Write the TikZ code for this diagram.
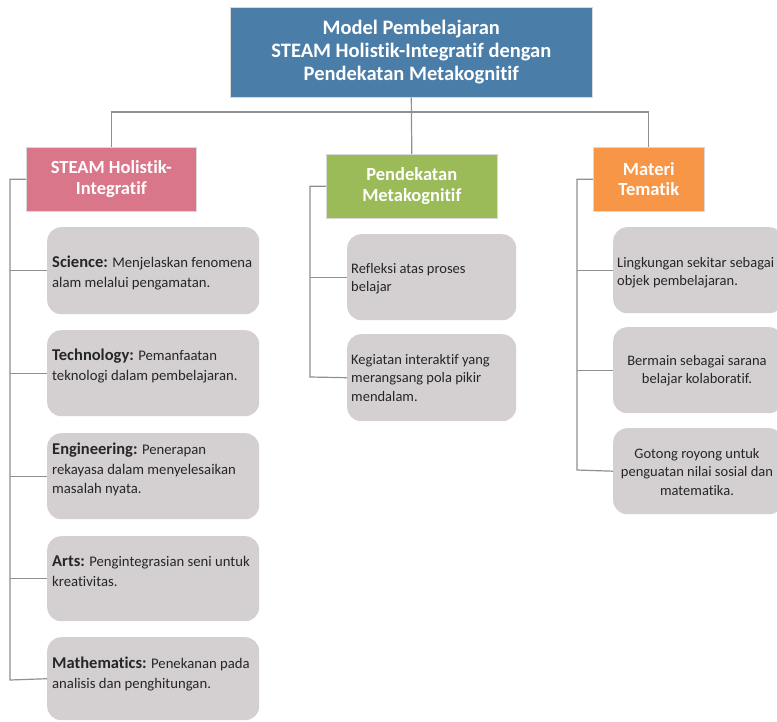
\documentclass[tikz,border=0pt]{standalone}
\usepackage{fontspec}
\setmainfont{Carlito}[Ligatures={NoCommon,NoRequired,NoContextual}]
\definecolor{topblue}{HTML}{4A7DA8}
\definecolor{pinkh}{HTML}{D9768A}
\definecolor{greenh}{HTML}{9BBB59}
\definecolor{orangeh}{HTML}{F79646}
\definecolor{boxgray}{HTML}{D4D0D1}
\definecolor{linegray}{HTML}{909090}
\definecolor{txt}{HTML}{262626}
\newcommand{\itemlab}{\fontsize{16.5}{19.5}\selectfont\bfseries}
\begin{document}
\begin{tikzpicture}[x=1pt,y=-1pt,
  head/.style={draw=white!85!black,line width=0.6pt,anchor=north west,text=white,align=center,inner sep=0pt},
  item/.style={fill=boxgray,draw=none,rounded corners=14pt,anchor=north west,inner sep=0pt},
  body/.style={text=txt,inner sep=0pt,anchor=north west,align=left,font=\fontsize{14.7}{19.5}\selectfont},
  bodyc/.style={text=txt,inner sep=0pt,anchor=north,align=center,font=\fontsize{14.5}{18.5}\selectfont},
  conn/.style={draw=linegray,line width=1.2pt}]
\clip (0,0) rectangle (777,721);
\fill[white] (0,0) rectangle (777,721);
% header boxes
\node[head,fill=topblue,minimum width=362pt,minimum height=90pt,font=\fontsize{20.5}{23}\selectfont\bfseries] (top) at (230,7) {Model Pembelajaran\\STEAM Holistik-Integratif dengan\\Pendekatan Metakognitif};
\node[head,fill=pinkh,minimum width=170pt,minimum height=64pt,font=\fontsize{18.5}{20.5}\selectfont\bfseries,yshift=-1.5pt] (steam) at (26,145.5) {STEAM Holistik-\\Integratif};
\node[head,fill=greenh,minimum width=171pt,minimum height=64pt,font=\fontsize{18.5}{21}\selectfont\bfseries] (meta) at (326,154) {Pendekatan\\Metakognitif};
\node[head,fill=orangeh,minimum width=111pt,minimum height=64pt,font=\fontsize{18.5}{20.5}\selectfont\bfseries] (mat) at (593,147) {Materi\\Tematik};
% left items
\node[item,minimum width=212pt,minimum height=87pt] (sci) at (47,227) {};
\node[item,minimum width=212pt,minimum height=86pt] (tech) at (47,330) {};
\node[item,minimum width=212pt,minimum height=86pt] (eng) at (47,433) {};
\node[item,minimum width=212pt,minimum height=85pt] (arts) at (47,536) {};
\node[item,minimum width=212pt,minimum height=83pt] (math) at (47,637) {};
\node[body] (scit) at (52,256) {{\itemlab Science:} Menjelaskan fenomena\\alam melalui pengamatan.};
\node[body] (techt) at (52,349) {{\itemlab Technology:} Pemanfaatan\\teknologi dalam pembelajaran.};
\node[body] (engt) at (52,443) {{\itemlab Engineering:} Penerapan\\rekayasa dalam menyelesaikan\\masalah nyata.};
\node[body] (artst) at (52,556) {{\itemlab Arts:} Pengintegrasian seni untuk\\kreativitas.};
\node[body] (matht) at (52,657) {{\itemlab Mathematics:} Penekanan pada\\analisis dan penghitungan.};
% middle items
\node[item,minimum width=169pt,minimum height=86pt] (refl) at (347,234) {};
\node[item,minimum width=169pt,minimum height=87pt] (keg) at (347,334) {};
\node[body,font=\fontsize{14.5}{18.5}\selectfont] (reflt) at (351,263) {Refleksi atas proses\\belajar};
\node[body,font=\fontsize{14.5}{18.5}\selectfont] (kegt) at (351,354) {Kegiatan interaktif yang\\merangsang pola pikir\\mendalam.};
% right items
\node[item,minimum width=170pt,minimum height=86pt] (ling) at (613,227) {};
\node[item,minimum width=170pt,minimum height=86pt] (main) at (613,327) {};
\node[item,minimum width=170pt,minimum height=86pt] (goto) at (613,428) {};
\node[body,font=\fontsize{14.5}{18.5}\selectfont] (lingt) at (617,257) {Lingkungan sekitar sebagai\\objek pembelajaran.};
\node[bodyc] (maint) at (697,355) {Bermain sebagai sarana\\belajar kolaboratif.};
\node[bodyc] (gotot) at (697,448) {Gotong royong untuk\\penguatan nilai sosial dan\\matematika.};
% connectors
\coordinate (bus) at (411,112);
\coordinate (lbus) at (10,680);
\coordinate (mbus) at (310,377);
\coordinate (rbus) at (577,470);
\draw[conn] (top.south) -- (meta.north);
\draw[conn] (steam.north) |- (bus) -| (mat.north);
\draw[conn] (steam.west) -| (lbus) -- (math.west);
\draw[conn] (sci.west) -- (sci.west -| lbus);
\draw[conn] (tech.west) -- (tech.west -| lbus);
\draw[conn] (eng.west) -- (eng.west -| lbus);
\draw[conn] (arts.west) -- (arts.west -| lbus);
\draw[conn] (meta.west) -| (mbus) -- (keg.west);
\draw[conn] (refl.west) -- (refl.west -| mbus);
\draw[conn] (mat.west) -| (rbus) -- (goto.west);
\draw[conn] (ling.west) -- (ling.west -| rbus);
\draw[conn] (main.west) -- (main.west -| rbus);
\end{tikzpicture}
\end{document}
